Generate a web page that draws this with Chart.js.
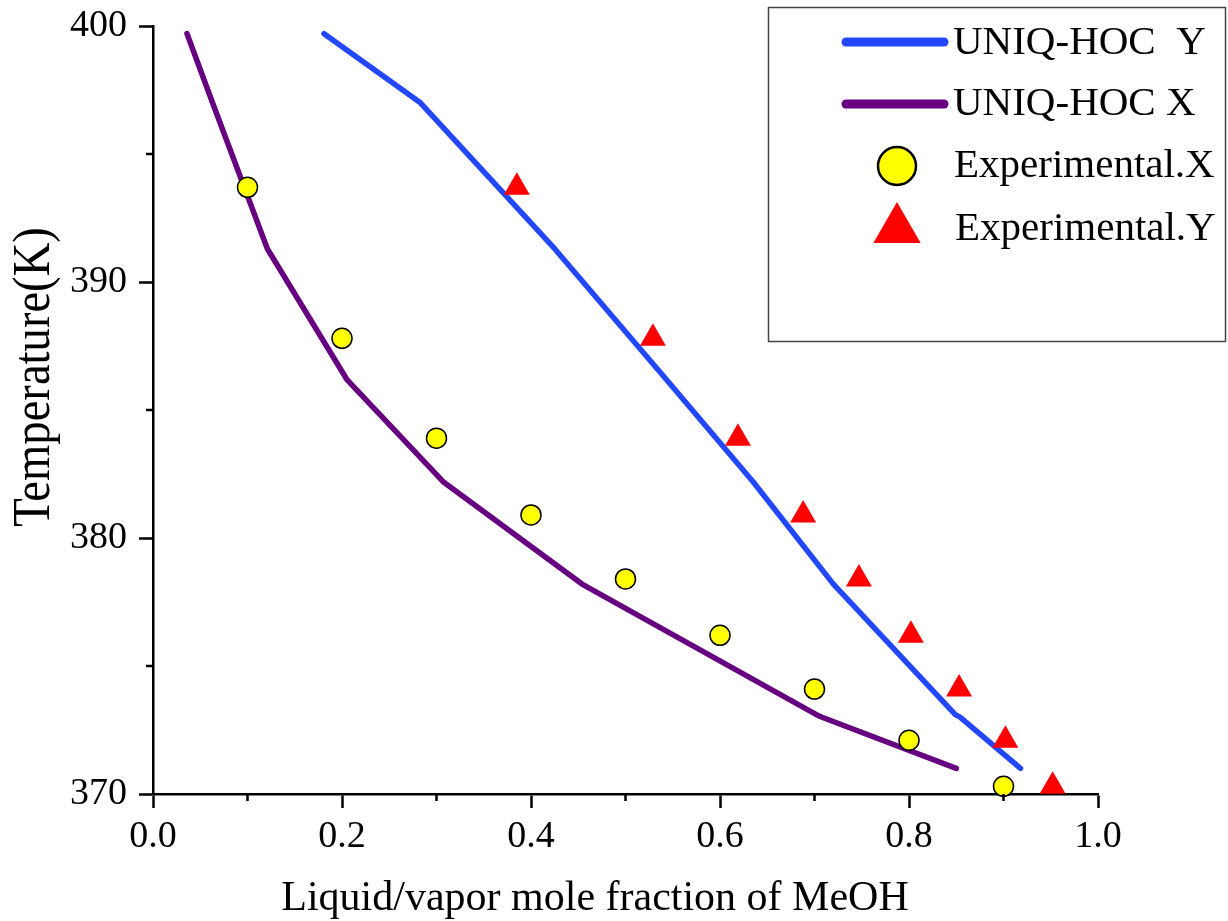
<!DOCTYPE html>
<html>
<head>
<meta charset="utf-8">
<title>T-x-y diagram MeOH</title>
<script src="https://cdn.jsdelivr.net/npm/chart.js@4.4.1/dist/chart.umd.min.js"></script>
<style>
    html, body { margin: 0; padding: 0; background: #fff; }
    #wrap { width: 1228px; height: 921px; }
</style>
</head>
<body>
<div id="wrap"><canvas id="txyChart" width="1228" height="921"></canvas></div>
<script>
// Model curves (UNIQ-HOC), temperature in K
const modelT = [399.7, 397.0, 391.3, 386.2, 382.2, 378.2, 373.1, 373.0, 371.0];
const modelX = [0.036, 0.063, 0.121, 0.205, 0.307, 0.454, 0.702, 0.708, 0.850];
const modelY = [0.181, 0.283, 0.425, 0.543, 0.635, 0.720, 0.849, 0.854, 0.918];

// Experimental points
const expT = [393.7, 387.8, 383.9, 380.9, 378.4, 376.2, 374.1, 372.1, 370.3];
const expX = [0.1, 0.2, 0.3, 0.4, 0.5, 0.6, 0.7, 0.8, 0.9];
const expY = [0.385, 0.529, 0.619, 0.688, 0.747, 0.802, 0.853, 0.902, 0.952];

// Axis ticks
const xMinor = [0.1, 0.3, 0.5, 0.7, 0.9];
const yMinor = [375, 385, 395];

const seriesLabels = ['UNIQ-HOC  Y', 'UNIQ-HOC X', 'Experimental.X', 'Experimental.Y'];
const xTitle = 'Liquid/vapor mole fraction of MeOH';
const yTitle = 'Temperature(K)';

const FONT = '"Liberation Serif", "Times New Roman", serif';

const toPoints = (xs, ys) => xs.map((v, i) => ({ x: v, y: ys[i] }));

// Minor ticks on both axes
const minorTicks = {
    id: 'minorTicks',
    afterDraw(chart) {
        const { ctx, chartArea, scales } = chart;
        ctx.save();
        ctx.strokeStyle = '#000';
        ctx.lineWidth = 2.5;
        ctx.beginPath();
        xMinor.forEach(v => {
            const px = scales.x.getPixelForValue(v);
            ctx.moveTo(px, chartArea.bottom);
            ctx.lineTo(px, chartArea.bottom + 7);
        });
        yMinor.forEach(v => {
            const py = scales.y.getPixelForValue(v);
            ctx.moveTo(chartArea.left, py);
            ctx.lineTo(chartArea.left - 7, py);
        });
        ctx.stroke();
        ctx.restore();
    }
};

// Axis titles (placed like the original figure)
const axisTitles = {
    id: 'axisTitles',
    afterDraw(chart) {
        const ctx = chart.ctx;
        ctx.save();
        ctx.fillStyle = '#000';
        ctx.textAlign = 'center';
        ctx.textBaseline = 'alphabetic';
        ctx.font = '42px ' + FONT;
        ctx.fillText(xTitle, 595, 910);

        ctx.translate(49, 377);
        ctx.rotate(-Math.PI / 2);
        ctx.scale(0.88, 1);
        ctx.font = '53px ' + FONT;
        ctx.fillText(yTitle, 0, 0);
        ctx.restore();
    }
};

// Boxed legend in the top right corner
const legendBox = {
    id: 'legendBox',
    afterDraw(chart) {
        const ctx = chart.ctx;
        const ds = chart.data.datasets;
        ctx.save();
        ctx.strokeStyle = '#444';
        ctx.lineWidth = 1.5;
        ctx.strokeRect(768.5, 7.5, 457, 334);

        // line entries
        [[0, 42], [1, 104]].forEach(([i, y]) => {
            ctx.beginPath();
            ctx.strokeStyle = ds[i].borderColor;
            ctx.lineWidth = 9;
            ctx.lineCap = 'round';
            ctx.moveTo(846, y);
            ctx.lineTo(944, y);
            ctx.stroke();
        });

        // marker entries
        ctx.fillStyle = ds[2].backgroundColor;
        ctx.strokeStyle = ds[2].borderColor;
        ctx.lineWidth = 2.5;
        Chart.helpers.drawPoint(ctx, { pointStyle: 'circle', radius: 19, borderWidth: 2.5, rotation: 0 }, 897, 166);

        ctx.fillStyle = ds[3].backgroundColor;
        Chart.helpers.drawPoint(ctx, { pointStyle: 'triangle', radius: 27.3, borderWidth: 0, rotation: 0 }, 897, 229.3);

        ctx.fillStyle = '#000';
        ctx.font = '41px ' + FONT;
        ctx.textAlign = 'left';
        ctx.textBaseline = 'alphabetic';
        ctx.fillText(ds[0].label, 953, 54);
        ctx.fillText(ds[1].label, 953, 115);
        ctx.fillText(ds[2].label, 954, 177);
        ctx.fillText(ds[3].label, 955, 239.5);
        ctx.restore();
    }
};

const axisStyle = {
    border: { display: true, color: '#000', width: 2.5 },
    grid: { drawOnChartArea: false, drawTicks: true, tickLength: 14, tickColor: '#000', tickWidth: 2.5 }
};

new Chart(document.getElementById('txyChart'), {
    type: 'scatter',
    data: {
        datasets: [
            {
                label: seriesLabels[0],
                data: toPoints(modelY, modelT),
                showLine: true,
                borderColor: '#2346ff',
                borderWidth: 5.5,
                borderCapStyle: 'round',
                borderJoinStyle: 'round',
                pointRadius: 0,
                order: 2
            },
            {
                label: seriesLabels[1],
                data: toPoints(modelX, modelT),
                showLine: true,
                borderColor: '#660080',
                borderWidth: 5.5,
                borderCapStyle: 'round',
                borderJoinStyle: 'round',
                pointRadius: 0,
                order: 2
            },
            {
                label: seriesLabels[2],
                data: toPoints(expX, expT),
                pointStyle: 'circle',
                pointRadius: 10,
                backgroundColor: '#ffff00',
                borderColor: '#000',
                borderWidth: 1.5,
                clip: false,
                order: 1
            },
            {
                label: seriesLabels[3],
                data: toPoints(expY, expT),
                pointStyle: 'triangle',
                pointRadius: 15,
                backgroundColor: '#ff0000',
                borderColor: '#ff0000',
                borderWidth: 0,
                clip: false,
                order: 0
            }
        ]
    },
    options: {
        responsive: false,
        animation: false,
        devicePixelRatio: 1,
        layout: { padding: { left: 0, top: 26, right: 130, bottom: 0 } },
        plugins: {
            legend: { display: false },
            tooltip: { enabled: false }
        },
        scales: {
            x: {
                type: 'linear',
                min: 0,
                max: 1,
                ...axisStyle,
                ticks: {
                    stepSize: 0.2,
                    autoSkip: false,
                    maxRotation: 0,
                    padding: 6,
                    color: '#000',
                    font: { family: FONT, size: 38 },
                    callback: v => v.toFixed(1)
                },
                afterFit: scale => {
                    scale.height = 127;
                    scale.paddingLeft = 0;
                    scale.paddingRight = 0;
                }
            },
            y: {
                type: 'linear',
                min: 370,
                max: 400,
                ...axisStyle,
                ticks: {
                    stepSize: 10,
                    autoSkip: false,
                    padding: 12,
                    color: '#000',
                    font: { family: FONT, size: 38 },
                    callback: v => v.toFixed(0)
                },
                afterFit: scale => {
                    scale.width = 153;
                    scale.paddingTop = 0;
                    scale.paddingBottom = 0;
                }
            }
        }
    },
    plugins: [minorTicks, axisTitles, legendBox]
});
</script>
</body>
</html>
